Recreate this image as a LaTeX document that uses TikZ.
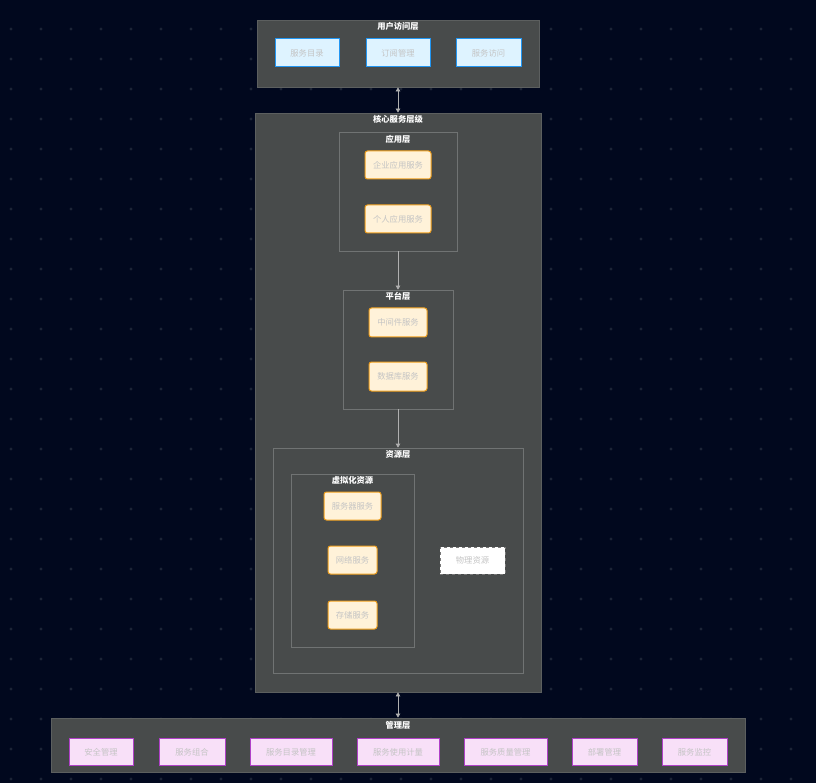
\documentclass[tikz,border=0pt]{standalone}
\usepackage{fontspec}
\setmainfont{Noto Sans CJK SC}
\usetikzlibrary{arrows.meta}
\definecolor{bgc}{RGB}{1,8,30}
\definecolor{dotc}{RGB}{28,36,54}
\definecolor{boxfill}{RGB}{72,75,75}
\definecolor{boxline}{RGB}{92,95,95}
\definecolor{innerline}{RGB}{112,115,115}
\definecolor{txtc}{RGB}{196,196,196}
\definecolor{bluefill}{RGB}{222,243,255}
\definecolor{blueline}{RGB}{33,150,243}
\definecolor{orfill}{RGB}{255,242,217}
\definecolor{orline}{RGB}{240,160,30}
\definecolor{pkfill}{RGB}{248,224,248}
\definecolor{pkline}{RGB}{176,64,200}
\definecolor{arrc}{RGB}{176,176,176}
\definecolor{dashc}{RGB}{120,120,120}
\begin{document}
\begin{tikzpicture}[x=1pt,y=-1pt,
  layer/.style={draw=boxline,fill=boxfill,line width=0.8pt,inner sep=0pt},
  sublayer/.style={draw=innerline,line width=0.7pt,inner sep=0pt},
  ttl/.style={font=\fontsize{8.3}{10}\selectfont\bfseries,text=white,inner sep=0pt},
  bluebox/.style={draw=blueline,fill=bluefill,line width=1pt,inner sep=0pt,text=txtc,font=\fontsize{8.3}{10}\selectfont},
  orbox/.style={draw=orline,fill=orfill,line width=1pt,rounded corners=2.5pt,inner sep=0pt,text=txtc,font=\fontsize{8.3}{10}\selectfont},
  pkbox/.style={draw=pkline,fill=pkfill,line width=1pt,inner sep=0pt,text=txtc,font=\fontsize{8.3}{10}\selectfont},
  physbox/.style={draw=dashc,dashed,fill=white,line width=1pt,inner sep=0pt,text=txtc,font=\fontsize{8.3}{10}\selectfont},
  conn/.style={draw=arrc,line width=0.7pt},
  tip/.tip={Triangle[width=4.5pt,length=4pt]}
]
\useasboundingbox (0,0) rectangle (816,783);
\fill[bgc] (0,0) rectangle (816,783);
\foreach \i in {0,...,26}{\foreach \j in {0,...,25}{\fill[dotc] (11+30*\i,29+30*\j) circle[radius=1.6pt];}}

% user access layer
\node[layer,minimum width=282pt,minimum height=67pt] (ul) at (398,53.5) {};
\node[ttl] (ult) at (398,26) {用户访问层};
\node[bluebox,minimum width=64pt,minimum height=28pt] (u1) at (307,53) {服务目录};
\node[bluebox,minimum width=64pt,minimum height=28pt] (u2) at (398,53) {订阅管理};
\node[bluebox,minimum width=65pt,minimum height=28pt] (u3) at (488.5,53) {服务访问};

% core
\node[layer,minimum width=286pt,minimum height=579pt] (core) at (398,402.5) {};
\node[ttl] (coret) at (398,119) {核心服务层级};

\node[sublayer,minimum width=118pt,minimum height=119pt] (app) at (398,191.5) {};
\node[ttl] (appt) at (398,139) {应用层};
\node[orbox,minimum width=66pt,minimum height=28pt] (a1) at (398,165) {企业应用服务};
\node[orbox,minimum width=66pt,minimum height=28pt] (a2) at (398,219) {个人应用服务};

\node[sublayer,minimum width=110pt,minimum height=119pt] (plat) at (398,349.5) {};
\node[ttl] (platt) at (398,296) {平台层};
\node[orbox,minimum width=58pt,minimum height=29pt] (p1) at (398,322.5) {中间件服务};
\node[orbox,minimum width=58pt,minimum height=29pt] (p2) at (398,376.5) {数据库服务};

\node[sublayer,minimum width=250pt,minimum height=225pt] (res) at (398,560.5) {};
\node[ttl] (rest) at (398,454) {资源层};
\node[sublayer,minimum width=123pt,minimum height=173pt] (virt) at (352.5,560.5) {};
\node[ttl] (virtt) at (352.5,480) {虚拟化资源};
\node[orbox,minimum width=57pt,minimum height=28pt] (v1) at (352.5,506) {服务器服务};
\node[orbox,minimum width=49pt,minimum height=28pt] (v2) at (352.5,560) {网络服务};
\node[orbox,minimum width=49pt,minimum height=28pt] (v3) at (352.5,615) {存储服务};
\node[physbox,minimum width=65pt,minimum height=27pt] (phys) at (472.5,560.5) {物理资源};

% management
\node[layer,minimum width=694pt,minimum height=54pt] (mg) at (398,745) {};
\node[ttl] (mgt) at (398,725) {管理层};
\node[pkbox,minimum width=64pt,minimum height=27pt] (m1) at (101,752) {安全管理};
\node[pkbox,minimum width=66pt,minimum height=27pt] (m2) at (192,752) {服务组合};
\node[pkbox,minimum width=82pt,minimum height=27pt] (m3) at (291,752) {服务目录管理};
\node[pkbox,minimum width=82pt,minimum height=27pt] (m4) at (398,752) {服务使用计量};
\node[pkbox,minimum width=83pt,minimum height=27pt] (m5) at (505.5,752) {服务质量管理};
\node[pkbox,minimum width=65pt,minimum height=27pt] (m6) at (604.5,752) {部署管理};
\node[pkbox,minimum width=65pt,minimum height=27pt] (m7) at (694.5,752) {服务监控};

% connectors
\draw[conn,{tip[fill=arrc]}-{tip[fill=arrc]}] (ul.south) -- (core.north);
\draw[conn,-{tip[fill=arrc]}] (app.south) -- (plat.north);
\draw[conn,-{tip[fill=arrc]}] (plat.south) -- (res.north);
\draw[conn,{tip[fill=arrc]}-{tip[fill=arrc]}] (core.south) -- (mg.north);
\end{tikzpicture}
\end{document}
